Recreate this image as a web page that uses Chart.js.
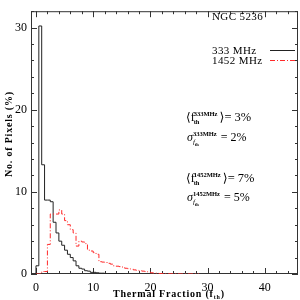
<!DOCTYPE html>
<html>
<head>
<meta charset="utf-8">
<script src="https://cdn.jsdelivr.net/npm/chart.js@4/dist/chart.umd.min.js"></script>
<style>
  html, body { margin: 0; padding: 0; background: #fff; }
  #wrap { width: 300px; height: 300px; }
</style>
</head>
<body>
<div id="wrap"><canvas id="fthHist" width="300" height="300"></canvas></div>
<script>
// histogram bins: 0.5 wide, starting at f_th = 0
var binStart = 0;
var binWidth = 0.5;
// % of pixels per bin, 333 MHz
var pixels333 = [1.0, 30.2, 13.3, 9.0, 9.0, 8.8, 6.3, 5.0, 4.0, 3.5,
                 2.9, 2.4, 2.0, 1.6, 1.0, 0.7, 0.6, 0.4, 0.35, 0.2,
                 0.2, 0.15, 0.1, 0.1, 0.05, 0.05, 0.03, 0.03, 0.02, 0.02, 0];
// % of pixels per bin, 1452 MHz
var pixels1452 = [0, 0, 0.3, 0.3, 3.6, 7.3, 7.3, 7.3, 7.8, 7.3,
                  6.5, 6.0, 5.4, 5.0, 3.4, 4.0, 3.9, 3.7, 2.9, 2.8,
                  2.6, 2.4, 1.5, 1.45, 1.4, 1.3, 1.2, 1.0, 0.95, 0.9,
                  0.85, 0.7, 0.65, 0.6, 0.5, 0.45, 0.4, 0.35, 0.3, 0.25,
                  0.15, 0.1, 0.1, 0.05, 0.05, 0.03, 0.03, 0.02, 0.02, 0.01,
                  0, 0, 0, 0, 0, 0, 0];
var xTicks = [0, 10, 20, 30, 40];
var yTicks = [0, 10, 20, 30];
var seriesNames = ['333 MHz', '1452 MHz'];
var freqTags = ['333MHz', '1452MHz'];
var meanFth = [3, 7];
var sigmaFth = [2, 5];
var galaxy = 'NGC 5236';

var serif = '"Liberation Serif", "DejaVu Serif", serif';

function toSteps(vals) {
  var pts = [{x: binStart, y: 0}];
  for (var i = 0; i < vals.length; i++) {
    pts.push({x: binStart + i * binWidth, y: vals[i]});
  }
  pts.push({x: binStart + vals.length * binWidth, y: vals[vals.length - 1]});
  return pts;
}

// draw a run of text pieces; each piece: [text, size, dy, weight, style, advance]
function rich(ctx, x, y, pieces) {
  ctx.textBaseline = 'alphabetic';
  ctx.textAlign = 'left';
  var cx = x;
  pieces.forEach(function (p) {
    ctx.font = (p[4] || '') + ' ' + (p[3] || 'normal') + ' ' + p[1] + 'px ' + serif;
    ctx.fillText(p[0], cx, y + p[2]);
    if (p[5] !== false) cx += ctx.measureText(p[0]).width;
  });
  return cx;
}

var frame = {
  id: 'frame',
  // box and inward ticks go under the histograms
  beforeDatasetsDraw: function (chart) {
    var ctx = chart.ctx, a = chart.chartArea;
    var sx = chart.scales.x, sy = chart.scales.y;
    ctx.save();
    ctx.strokeStyle = '#333';
    ctx.lineWidth = 1;
    ctx.strokeRect(a.left + 0.5, a.top + 0.5, a.right - a.left - 1, a.bottom - a.top - 1);
    ctx.beginPath();
    for (var v = 0; v <= 44; v += 2) {
      var px = Math.round(sx.getPixelForValue(v)) + 0.5;
      var len = (v % 10 === 0) ? 6 : 3;
      ctx.moveTo(px, a.bottom); ctx.lineTo(px, a.bottom - len);
      ctx.moveTo(px, a.top); ctx.lineTo(px, a.top + len);
    }
    for (var w = 0; w <= 32; w += 2) {
      var py = Math.round(sy.getPixelForValue(w)) + 0.5;
      var l2 = (w % 10 === 0) ? 6 : 3;
      ctx.moveTo(a.left, py); ctx.lineTo(a.left + l2, py);
      ctx.moveTo(a.right, py); ctx.lineTo(a.right - l2, py);
    }
    ctx.stroke();
    ctx.restore();
  },
  afterDraw: function (chart) {
    var ctx = chart.ctx;
    ctx.save();
    ctx.fillStyle = '#000';
    // galaxy name and legend
    ctx.font = '11px ' + serif;
    ctx.letterSpacing = '0.4px';
    ctx.textBaseline = 'middle';
    ctx.fillText(galaxy, 212, 17);
    ctx.fillText(seriesNames[0], 212, 51);
    ctx.fillText(seriesNames[1], 212, 61);
    ctx.letterSpacing = '0px';

    ctx.lineWidth = 1;
    ctx.strokeStyle = '#222';
    ctx.beginPath(); ctx.moveTo(270, 50.5); ctx.lineTo(295, 50.5); ctx.stroke();
    ctx.strokeStyle = '#ff2a2a';
    ctx.setLineDash([5, 2, 1, 2]);
    ctx.beginPath(); ctx.moveTo(270, 60.5); ctx.lineTo(295, 60.5); ctx.stroke();
    ctx.setLineDash([]);

    // mean and sigma annotations
    var rows = [[121, 141], [182, 201]];
    for (var k = 0; k < 2; k++) {
      var yb = rows[k][0];
      var x0 = rich(ctx, 186, yb, [['\u27e8f', 12, 0]]);
      ctx.font = 'bold 6.5px ' + serif;
      var supW = ctx.measureText(freqTags[k]).width;
      rich(ctx, x0 - 1, yb, [[freqTags[k], 6.5, -5, 'bold', '', false]]);
      rich(ctx, x0 - 1, yb, [['th', 6.5, 3, 'bold']]);
      rich(ctx, x0 + supW + 1, yb, [['\u27e9= ' + meanFth[k] + '%', 12.5, 0]]);

      var ys = rows[k][1];
      var x1 = rich(ctx, 187, ys, [['\u03c3', 12, 0, 'normal', 'italic']]);
      rich(ctx, x1, ys, [[freqTags[k], 6.5, -5, 'bold', '', false]]);
      rich(ctx, x1, ys, [['f', 7, 3, 'normal', 'italic'], ['th', 4.5, 5, 'bold']]);
      rich(ctx, x1 + supW + 4, ys, [['= ' + sigmaFth[k] + '%', 12, 0]]);
    }

    // axis titles
    ctx.letterSpacing = '0.8px';
    var xt = rich(ctx, 113, 297, [['Thermal Fraction (f', 10, 0, 'bold']]);
    xt = rich(ctx, xt, 297, [['th', 6, 2, 'bold']]);
    rich(ctx, xt, 297, [[')', 10, 0, 'bold']]);
    ctx.translate(12, 177);
    ctx.rotate(-Math.PI / 2);
    rich(ctx, 0, 0, [['No. of Pixels (%)', 10, 0, 'bold']]);
    ctx.restore();
  }
};

var ctx = document.getElementById('fthHist').getContext('2d');
var chart = new Chart(ctx, {
  type: 'line',
  data: {
    datasets: [{
      label: seriesNames[1],
      data: toSteps(pixels1452),
      stepped: 'before',
      borderColor: '#ff2a2a',
      borderWidth: 1,
      borderDash: [5, 2, 1, 2],
      pointRadius: 0,
      fill: false
    }, {
      label: seriesNames[0],
      data: toSteps(pixels333),
      stepped: 'before',
      borderColor: '#222',
      borderWidth: 1,
      pointRadius: 0,
      fill: false
    }]
  },
  options: {
    responsive: false,
    animation: false,
    events: [],
    layout: { padding: { top: 1, right: 2, left: 0, bottom: 0 } },
    plugins: { legend: { display: false }, tooltip: { enabled: false } },
    scales: {
      x: {
        type: 'linear',
        min: -0.87,
        max: 45.8,
        afterBuildTicks: function (s) { s.ticks = xTicks.map(function (v) { return {value: v}; }); },
        afterFit: function (s) { s.height = 26; },
        grid: { display: false, drawTicks: false },
        border: { display: false },
        ticks: { autoSkip: false, maxRotation: 0, padding: 7, color: '#000',
                 font: { family: serif, size: 12 } }
      },
      y: {
        type: 'linear',
        min: 0,
        max: 32,
        afterBuildTicks: function (s) { s.ticks = yTicks.map(function (v) { return {value: v}; }); },
        afterFit: function (s) { s.width = 31; },
        grid: { display: false, drawTicks: false },
        border: { display: false },
        ticks: { padding: 4, color: '#000', font: { family: serif, size: 12 } }
      }
    }
  },
  plugins: [frame]
});
</script>
</body>
</html>
